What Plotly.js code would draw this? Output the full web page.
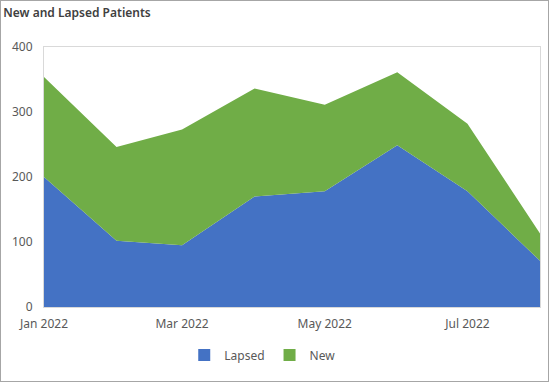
<!DOCTYPE html>
<html>
<head>
<meta charset="utf-8">
<script src="https://cdn.plot.ly/plotly-3.0.1.min.js"></script>
<style>
  html, body { margin: 0; padding: 0; background: #fff; }
  #wrap { position: relative; width: 549px; height: 382px; }
  #chart { position: absolute; left: 0; top: 0; width: 549px; height: 382px; }
  #frame { position: absolute; left: 0; top: 0; width: 549px; height: 382px; box-sizing: border-box; border: 1px solid #a6a6a6; pointer-events: none; }
</style>
</head>
<body>
<div id="wrap">
  <div id="chart"></div>
  <div id="frame"></div>
</div>
<script>
const months = ["2022-01-01","2022-02-01","2022-03-01","2022-04-01","2022-05-01","2022-06-01","2022-07-01","2022-08-01"];
const lapsed = [200, 102, 95, 170, 178, 249, 178, 71];
const newPatients = [154, 144, 178, 166, 133, 112, 104, 42];
const tickVals = ["2022-01-01","2022-03-01","2022-05-01","2022-07-01"];
const tickText = ["Jan 2022","Mar 2022","May 2022","Jul 2022"];
const seriesNames = ["Lapsed", "New"];
const seriesColors = ["#4472C4", "#70AD47"];

const font = "'Noto Sans', 'Open Sans', sans-serif";
const traces = [
  { x: months, y: lapsed, name: seriesNames[0], type: "scatter", mode: "lines", stackgroup: "one",
    line: { width: 0, color: seriesColors[0] }, fillcolor: seriesColors[0], showlegend: false },
  { x: months, y: newPatients, name: seriesNames[1], type: "scatter", mode: "lines", stackgroup: "one",
    line: { width: 0, color: seriesColors[1] }, fillcolor: seriesColors[1], showlegend: false }
];
// legend-only entries with square swatches
seriesNames.forEach((n, i) => {
  traces.push({ x: [null], y: [null], name: n, type: "bar", marker: { color: seriesColors[i] },
                showlegend: true, hoverinfo: "skip" });
});
const layout = {
  width: 549, height: 382,
  margin: { l: 44, r: 9, t: 47, b: 75 },
  paper_bgcolor: "#fff", plot_bgcolor: "#fff",
  font: { family: font, size: 12, color: "#595959" },
  title: { text: "New and Lapsed Patients", x: 0.006, xanchor: "left", xref: "container",
           y: 0.966, yanchor: "middle", yref: "container",
           font: { family: font, size: 12, color: "#404040", weight: 600 } },
  xaxis: { type: "date", range: ["2022-01-01","2022-08-01"], tickvals: tickVals, ticktext: tickText,
           showgrid: false, zeroline: false, showline: true, mirror: true, linecolor: "#d9d9d9", linewidth: 1,
           ticks: "outside", ticklen: 6, tickcolor: "rgba(0,0,0,0)", tickfont: { size: 12, color: "#595959" } },
  yaxis: { range: [0, 400], tickvals: [0,100,200,300,400], showgrid: false, zeroline: false,
           showline: true, mirror: true, linecolor: "#d9d9d9", linewidth: 1,
           ticks: "outside", ticklen: 8, tickcolor: "rgba(0,0,0,0)", tickfont: { size: 12, color: "#595959" } },
  showlegend: true,
  legend: { orientation: "h", x: 0.44, xanchor: "center", y: -0.185, yanchor: "middle",
            font: { size: 12, color: "#595959" }, traceorder: "normal", itemwidth: 30 }
};
Plotly.newPlot("chart", traces, layout, { displayModeBar: false, staticPlot: true });
</script>
</body>
</html>
